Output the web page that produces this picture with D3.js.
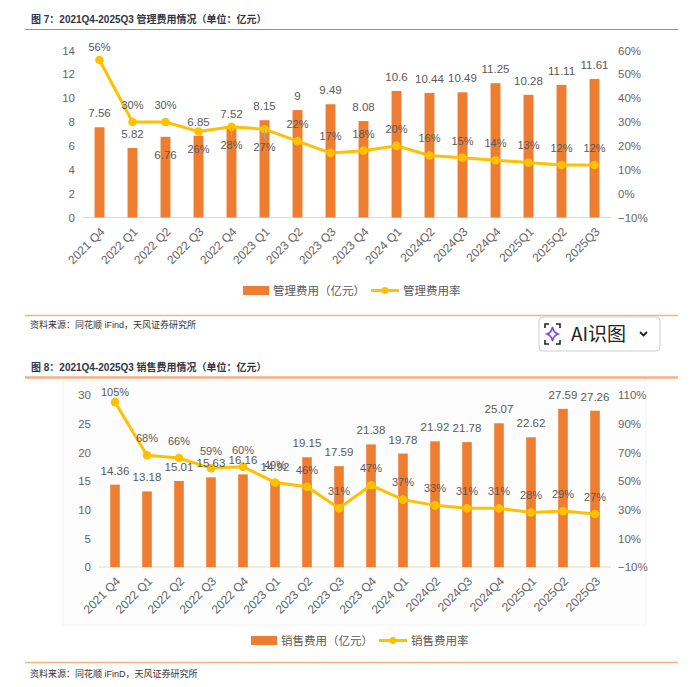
<!DOCTYPE html>
<meta charset="utf-8">
<script src="https://cdn.jsdelivr.net/npm/d3@7"></script>
<style>
body { margin: 0; background: #fff; }
svg { display: block; font-family: "Liberation Sans", Arial, "Noto Sans CJK SC", sans-serif; }
</style>
<body>
<script>

// ---- data ----
var quarters = ["2021 Q4", "2022 Q1", "2022 Q2", "2022 Q3", "2022 Q4", "2023 Q1", "2023 Q2", "2023 Q3",
                "2023 Q4", "2024 Q1", "2024Q2", "2024Q3", "2024Q4", "2025Q1", "2025Q2", "2025Q3"]

var mgmtCost = [7.56, 5.82, 6.76, 6.85, 7.52, 8.15, 9, 9.49, 8.08, 10.6, 10.44, 10.49, 11.25, 10.28, 11.11, 11.61]
var mgmtRate = [0.56, 0.30, 0.30, 0.26, 0.28, 0.27, 0.22, 0.17, 0.18, 0.20, 0.16, 0.15, 0.14, 0.13, 0.12, 0.12]
var mgmtLeftTicks = [0, 2, 4, 6, 8, 10, 12, 14]
var mgmtRightTicks = [-0.1, 0, 0.1, 0.2, 0.3, 0.4, 0.5, 0.6]

var salesCost = [14.36, 13.18, 15.01, 15.63, 16.16, 14.92, 19.15, 17.59, 21.38, 19.78, 21.92, 21.78, 25.07, 22.62, 27.59, 27.26]
var salesRate = [1.05, 0.68, 0.66, 0.59, 0.60, 0.49, 0.46, 0.31, 0.47, 0.37, 0.33, 0.31, 0.31, 0.28, 0.29, 0.27]
var salesLeftTicks = [0, 5, 10, 15, 20, 25, 30]
var salesRightTicks = [-0.1, 0.1, 0.3, 0.5, 0.7, 0.9, 1.1]

// labels that sit under the point instead of over it
var mgmtBarLabelsBelow = ["2022 Q2"]
var mgmtRateLabelsBelow = ["2022 Q3", "2022 Q4", "2023 Q1"]
var mgmtRateLeaders = ["2022 Q4", "2023 Q1"]

var orange = "#ED7D31"
var gold = "#FFC000"
var grey = "#595959"

var svg = d3.select("body").append("svg")
            .attr("width", 699)
            .attr("height", 687)

function drawChart(o) {
  var g = svg.append("g")

  var x = d3.scaleBand().domain(quarters).range([o.x0, o.x1]).paddingInner(0.7).paddingOuter(0.35)
  var y = d3.scaleLinear().domain(o.leftDomain).range([o.base, o.top])
  var yR = d3.scaleLinear().domain(o.rightDomain).range([o.base, o.top])
  var cx = function(q) { return x(q) + x.bandwidth() / 2 }

  g.append("g")
   .attr("transform", "translate(" + o.x0 + ",0)")
   .call(d3.axisLeft(y).tickValues(o.leftTicks).tickSize(0).tickPadding(8))
  g.append("g")
   .attr("transform", "translate(" + o.x1 + ",0)")
   .call(d3.axisRight(yR).tickValues(o.rightTicks).tickSize(0).tickPadding(7).tickFormat(d3.format(".0%")))
  var bottom = g.append("g")
     .attr("transform", "translate(0," + o.base + ")")
     .call(d3.axisBottom(x).tickSize(0))
  bottom.selectAll("text")
     .attr("x", 0).attr("y", 0).attr("dy", "0.35em")
     .attr("transform", "translate(3,12) rotate(-45)")
     .style("text-anchor", "end")

  g.selectAll(".domain").remove()
  g.selectAll(".tick text").attr("fill", "#666").style("font-size", "11.5px").style("font-family", "inherit")
  bottom.selectAll("text").style("font-size", "12px")

  g.append("line")
   .attr("x1", o.x0).attr("x2", o.x1)
   .attr("y1", y(0)).attr("y2", y(0))
   .attr("stroke", "#d9d9d9").attr("stroke-width", 1.2)

  g.selectAll(".bar").data(o.cost).enter().append("rect")
   .attr("x", function(d, i) { return x(quarters[i]) })
   .attr("y", function(d) { return y(d) })
   .attr("width", x.bandwidth())
   .attr("height", function(d) { return y(0) - y(d) })
   .attr("fill", orange)

  var line = d3.line().x(function(d, i) { return cx(quarters[i]) }).y(function(d) { return yR(d) })
  g.append("path").attr("d", line(o.rate)).attr("fill", "none").attr("stroke", gold).attr("stroke-width", 3)
  g.selectAll(".dot").data(o.rate).enter().append("circle")
   .attr("cx", function(d, i) { return cx(quarters[i]) })
   .attr("cy", function(d) { return yR(d) })
   .attr("r", 4.3)
   .attr("fill", gold)

  // small leader lines from point to label
  g.selectAll(".leader").data(o.rate.filter(function(d, i) { return o.leaders.indexOf(quarters[i]) >= 0 }))
   .enter().append("line")
   .attr("x1", function(d) { return cx(quarters[o.rate.indexOf(d)]) })
   .attr("x2", function(d) { return cx(quarters[o.rate.indexOf(d)]) })
   .attr("y1", function(d) { return yR(d) + 1 })
   .attr("y2", function(d) { return yR(d) + 10 })
   .attr("stroke", "#a6a6a6").attr("stroke-width", 1)

  g.selectAll(".barlab").data(o.cost).enter().append("text")
   .attr("x", function(d, i) { return cx(quarters[i]) })
   .attr("y", function(d, i) { return o.barBelow.indexOf(quarters[i]) >= 0 ? y(d) + 18 : y(d) - 14 })
   .attr("dy", "0.35em")
   .attr("text-anchor", "middle")
   .attr("fill", grey)
   .style("font-size", "11.5px")
   .text(function(d) { return String(d) })

  g.selectAll(".ratelab").data(o.rate).enter().append("text")
   .attr("x", function(d, i) { return cx(quarters[i]) })
   .attr("y", function(d, i) {
     if (o.rateBelow.indexOf(quarters[i]) >= 0) return yR(d) + 18
     return Math.max(yR(d) - 17, o.top - 3)
   })
   .attr("dy", "0.35em")
   .attr("text-anchor", "middle")
   .attr("fill", grey)
   .style("font-size", "11px")
   .text(function(d) { return Math.round(d * 100) + "%" })

  // legend
  var lg = g.append("g").attr("transform", "translate(" + o.legendX + "," + o.legendY + ")")
  lg.append("rect").attr("x", 0).attr("y", -4.5).attr("width", 26).attr("height", 9).attr("fill", orange)
  lg.append("text").attr("x", 30).attr("dy", "0.35em").attr("fill", grey).style("font-size", "11.5px").text(o.names[0])
  lg.append("line").attr("x1", 128).attr("x2", 156).attr("stroke", gold).attr("stroke-width", 3)
  lg.append("circle").attr("cx", 142).attr("r", 3.5).attr("fill", gold)
  lg.append("text").attr("x", 160).attr("dy", "0.35em").attr("fill", grey).style("font-size", "11.5px").text(o.names[1])
}

function title(txt, yy) {
  svg.append("text").attr("x", 31).attr("y", yy).attr("fill", "#2f3542")
     .style("font-size", "10px").style("font-weight", "bold").text(txt)
}
function source(txt, yy) {
  svg.append("text").attr("x", 30).attr("y", yy).attr("fill", "#333")
     .style("font-size", "9px").text(txt)
}
function rule(yy, col, w) {
  svg.append("line").attr("x1", 25).attr("x2", 678).attr("y1", yy).attr("y2", yy)
     .attr("stroke", col).attr("stroke-width", w)
}

// chart 1
title("图 7：2021Q4-2025Q3 管理费用情况（单位：亿元）", 23)
rule(29.5, orange, 1.2)
drawChart({
  x0: 83, x1: 611, base: 217.5, top: 50.4,
  leftDomain: [0, 14], rightDomain: [-0.1, 0.6],
  leftTicks: mgmtLeftTicks, rightTicks: mgmtRightTicks,
  cost: mgmtCost, rate: mgmtRate,
  barBelow: mgmtBarLabelsBelow, rateBelow: mgmtRateLabelsBelow, leaders: mgmtRateLeaders,
  legendX: 243, legendY: 290.5,
  names: ["管理费用（亿元）", "管理费用率"]
})
rule(315.5, "#F4B183", 1.5)
source("资料来源：同花顺 iFind，天风证券研究所", 328)

// chart 2
title("图 8：2021Q4-2025Q3 销售费用情况（单位：亿元）", 371)
rule(377.5, "#F4B183", 2.5)
svg.append("rect").attr("x", 63).attr("y", 381).attr("width", 583).attr("height", 244)
   .attr("fill", "#fdfdfd").attr("stroke", "#f4f4f4").lower()
drawChart({
  x0: 99, x1: 611, base: 567, top: 395,
  leftDomain: [0, 30], rightDomain: [-0.1, 1.1],
  leftTicks: salesLeftTicks, rightTicks: salesRightTicks,
  cost: salesCost, rate: salesRate,
  barBelow: [], rateBelow: [], leaders: [],
  legendX: 251, legendY: 640.5,
  names: ["销售费用（亿元）", "销售费用率"]
})
rule(662.5, "#F4B183", 1.5)
source("资料来源：同花顺 iFinD，天风证券研究所", 677)

// "AI识图" button overlay
var btn = svg.append("g").attr("transform", "translate(539,317)")
btn.append("rect").attr("width", 121).attr("height", 34).attr("rx", 4)
   .attr("fill", "#fff").attr("stroke", "#cfcfcf")
btn.append("path")
   .attr("d", "M6,11 V7 H10 M17,7 H21 V11 M21,23 V27 H17 M10,27 H6 V23")
   .attr("fill", "none").attr("stroke", "#222").attr("stroke-width", 1.6)
btn.append("path")
   .attr("d", "M13.5,10 Q14.5,15.5 19,17 Q14.5,18.5 13.5,24 Q12.5,18.5 8,17 Q12.5,15.5 13.5,10 Z")
   .attr("fill", "none").attr("stroke", "#7a3ff0").attr("stroke-width", 1.5)
btn.append("text").attr("x", 32).attr("y", 24).attr("fill", "#222")
   .style("font-size", "19px").style("font-family", "'Noto Sans CJK SC', sans-serif").text("AI识图")
btn.append("path").attr("d", "M101,15 L104.5,18.5 L108,15")
   .attr("fill", "none").attr("stroke", "#222").attr("stroke-width", 1.8)

</script>
</body>
